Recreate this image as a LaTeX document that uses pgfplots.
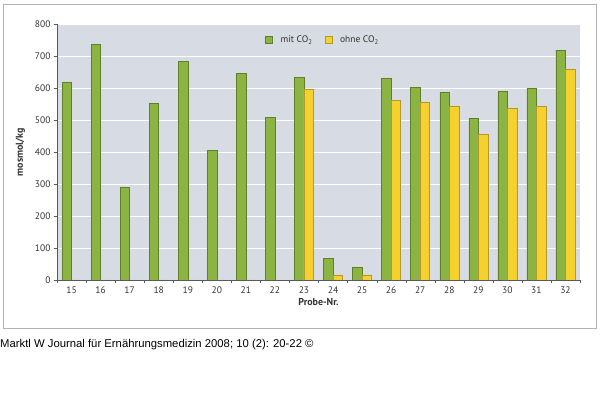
\documentclass[border=0pt]{standalone}
\usepackage{pgfplots}
\pgfplotsset{compat=1.18}
\usepackage{fontspec}
\setmainfont{PT Sans}
\newfontfamily\capfont{Liberation Sans}
\definecolor{bggray}{HTML}{D6DBE4}
\definecolor{mitgreen}{HTML}{8CB443}
\definecolor{mitedge}{HTML}{5F7F2A}
\definecolor{ohneyellow}{HTML}{F6D12E}
\definecolor{ohneedge}{HTML}{B09A30}
\definecolor{txt}{HTML}{333333}
\begin{document}
\begin{tikzpicture}[x=1pt,y=1pt]
\useasboundingbox (0,0) rectangle (600,396);
\fill[white] (0,0) rectangle (600,396);
\draw[gray!60, line width=0.8pt] (3,68) rectangle (596,392);
\begin{axis}[
  at={(57pt,116pt)}, anchor=south west,
  scale only axis, width=523pt, height=256pt,
  ybar=0pt, bar width=9.5pt,
  xmin=-0.5, xmax=17.5, ymin=0, ymax=800,
  ytick={0,100,...,800},
  xtick={0,...,17},
  xticklabels={15,16,17,18,19,20,21,22,23,24,25,26,27,28,29,30,31,32},
  minor xtick={-0.5,0.5,...,17.5},
  major x tick style={draw=none},
  minor tick length=3pt,
  major tick length=3pt,
  tick align=outside,
  axis x line*=bottom, axis y line*=left,
  axis line style={gray!70!black, -},
  tick style={gray!70!black},
  axis background/.style={fill=bggray},
  ymajorgrids, grid style={white, line width=0.9pt},
  tick label style={font=\fontsize{9.5}{10}\selectfont, text=txt},
  /pgf/number format/assume math mode=true,
  xlabel={\bfseries Probe-Nr.},
  ylabel={\bfseries mosmol/kg},
  label style={font=\fontsize{10}{11}\selectfont, text=txt},
  xlabel style={yshift=2pt},
  ylabel style={yshift=3pt},
  legend style={at={(0.392,0.9375)}, anchor=west, draw=none, fill=none,
    font=\fontsize{9.5}{10}\selectfont, text=txt, column sep=6pt,
    /tikz/every even column/.append style={column sep=10pt}},
  legend columns=2,
  legend image code/.code={\draw[#1] (0pt,-3.5pt) rectangle (7pt,3.5pt);},
]
\addplot[fill=mitgreen, draw=mitedge, line width=0.5pt] coordinates {
(0,618) (1,736) (2,290) (3,552) (4,683) (5,404) (6,646) (7,508) (8,633)
(9,68) (10,40) (11,630) (12,602) (13,586) (14,504) (15,590) (16,599) (17,718)};
\addplot[fill=ohneyellow, draw=ohneedge, line width=0.5pt] coordinates {
(0,0) (1,0) (2,0) (3,0) (4,0) (5,0) (6,0) (7,0) (8,597)
(9,16) (10,16) (11,562) (12,554) (13,544) (14,454) (15,537) (16,542) (17,660)};
\legend{mit CO\textsubscript{2}, ohne CO\textsubscript{2}}
\end{axis}
\node[anchor=west, inner sep=0pt, font=\capfont\fontsize{11.3}{13}\selectfont] at (0,51) {Marktl W Journal für Ernährungsmedizin 2008; 10 (2): 20-22 ©};
\end{tikzpicture}
\end{document}
